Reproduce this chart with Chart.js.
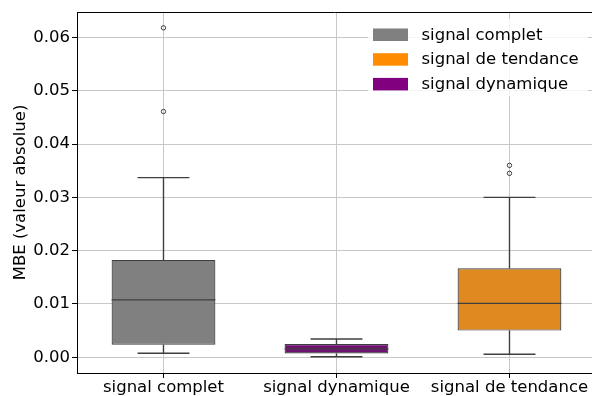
<!DOCTYPE html>
<html>
<head>
<meta charset="utf-8">
<script src="https://cdn.jsdelivr.net/npm/chart.js@4.4.1/dist/chart.umd.min.js"></script>
<style>
  html, body { margin: 0; padding: 0; background: #fff; }
  #wrap { width: 592px; height: 396px; }
</style>
</head>
<body>
<div id="wrap"><canvas id="box-chart" width="592" height="396"></canvas></div>
<script>
// boxplot MBE par type de signal
const categories = ['signal complet', 'signal dynamique', 'signal de tendance'];
const q1 = [0.00237, 0.0007, 0.0050];
const q3 = [0.01827, 0.0025, 0.0167];
const medians = [0.01076, 0.00156, 0.0101];
const whiskerLow = [0.00075, 0.0001, 0.00056];
const whiskerHigh = [0.0337, 0.00344, 0.0300];
const outliers = [[0.0618, 0.0461], [], [0.0360, 0.0345]];
const yTicks = [0, 0.01, 0.02, 0.03, 0.04, 0.05, 0.06];

const legendLabels = ['signal complet', 'signal de tendance', 'signal dynamique'];
const legendColors = ['#808080', '#ff8c00', '#800080'];
const boxColors = ['#808080', '#701070', '#df8920'];

const lineColor = '#3f3f3f';
const gridColor = '#c8c8c8';
const fontFamily = "'DejaVu Sans', sans-serif";
const fontSize = 16.5;

Chart.defaults.font.family = fontFamily;
Chart.defaults.font.size = fontSize;
Chart.defaults.color = '#000';

const outlierPoints = [];
outliers.forEach((vals, i) => vals.forEach((v) => outlierPoints.push({ x: i, y: v })));

const whiskerPlugin = {
  id: 'whiskers',
  afterDatasetsDraw(chart) {
    const { ctx, scales: { x, y } } = chart;
    ctx.save();
    ctx.strokeStyle = lineColor;
    categories.forEach((_, i) => {
      const cx = x.getPixelForValue(i);
      const halfBox = (x.getPixelForValue(i + 0.3) - x.getPixelForValue(i - 0.3)) / 2;
      const halfCap = halfBox / 2;
      ctx.lineWidth = 1.4;
      ctx.beginPath();
      ctx.moveTo(cx, y.getPixelForValue(q3[i]));
      ctx.lineTo(cx, y.getPixelForValue(whiskerHigh[i]));
      ctx.moveTo(cx - halfCap, y.getPixelForValue(whiskerHigh[i]));
      ctx.lineTo(cx + halfCap, y.getPixelForValue(whiskerHigh[i]));
      ctx.moveTo(cx, y.getPixelForValue(q1[i]));
      ctx.lineTo(cx, y.getPixelForValue(whiskerLow[i]));
      ctx.moveTo(cx - halfCap, y.getPixelForValue(whiskerLow[i]));
      ctx.lineTo(cx + halfCap, y.getPixelForValue(whiskerLow[i]));
      ctx.stroke();
      // médiane
      ctx.lineWidth = 1.2;
      ctx.beginPath();
      ctx.moveTo(cx - halfBox, y.getPixelForValue(medians[i]));
      ctx.lineTo(cx + halfBox, y.getPixelForValue(medians[i]));
      ctx.stroke();
    });
    ctx.restore();
  },
  afterDraw(chart) {
    const { ctx, chartArea } = chart;
    ctx.save();
    // cadre haut
    ctx.strokeStyle = '#000';
    ctx.lineWidth = 1;
    ctx.beginPath();
    ctx.moveTo(chartArea.left, chartArea.top + 0.5);
    ctx.lineTo(chartArea.right, chartArea.top + 0.5);
    ctx.stroke();

    // légende
    const boxX = 368, boxY = 19, boxW = 220, boxH = 77;
    ctx.fillStyle = 'rgba(255,255,255,0.8)';
    ctx.beginPath();
    ctx.roundRect(boxX, boxY, boxW, boxH, 4);
    ctx.fill();
    ctx.font = `${fontSize}px ${fontFamily}`;
    ctx.textBaseline = 'middle';
    ctx.textAlign = 'left';
    legendLabels.forEach((label, i) => {
      const rowY = 34.5 + i * 24.7;
      ctx.fillStyle = legendColors[i];
      ctx.fillRect(373, rowY - 6, 35, 12.5);
      ctx.fillStyle = '#000';
      ctx.fillText(label, 421.5, rowY + 1);
    });
    ctx.restore();
  },
};

new Chart(document.getElementById('box-chart'), {
  type: 'bar',
  data: {
    datasets: [
      {
        label: 'boîtes',
        data: categories.map((_, i) => ({ x: i, y: [q1[i], q3[i]] })),
        backgroundColor: boxColors,
        borderColor: lineColor,
        borderWidth: 1.2,
        borderSkipped: false,
        barPercentage: 1,
        categoryPercentage: 0.6,
        order: 2,
      },
      {
        type: 'scatter',
        label: 'valeurs aberrantes',
        data: outlierPoints,
        pointRadius: 2.2,
        pointBackgroundColor: 'rgba(0,0,0,0)',
        pointBorderColor: lineColor,
        pointBorderWidth: 1,
        order: 1,
      },
    ],
  },
  options: {
    responsive: false,
    animation: false,
    events: [],
    layout: { autoPadding: false, padding: { top: 12, left: 0, right: 0, bottom: 0 } },
    plugins: {
      legend: { display: false },
      tooltip: { enabled: false },
    },
    scales: {
      x: {
        type: 'linear',
        min: -0.5,
        max: 2.477,
        offset: false,
        grid: { offset: false, color: gridColor, lineWidth: 1, tickColor: '#000', tickLength: 5 },
        border: { color: '#000', width: 1 },
        ticks: {
          stepSize: 1,
          includeBounds: false,
          autoSkip: false,
          maxRotation: 0,
          padding: 0,
          color: '#000',
          callback: (v) => (Number.isInteger(v) ? categories[v] : ''),
        },
        afterFit: (s) => { s.height = 23; s.paddingLeft = 0; s.paddingRight = 0; },
      },
      y: {
        min: -0.00295,
        max: 0.06477,
        grid: { color: gridColor, lineWidth: 1, tickColor: '#000', tickLength: 5 },
        border: { color: '#000', width: 1 },
        ticks: {
          stepSize: 0.01,
          includeBounds: false,
          padding: 2,
          color: '#000',
          callback: (v) => (yTicks.some((t) => Math.abs(t - v) < 1e-9) ? v.toFixed(2) : ''),
        },
        title: {
          display: true,
          text: 'MBE (valeur absolue)',
          color: '#000',
          font: { size: fontSize },
          padding: { top: 11, bottom: 0 },
        },
        afterFit: (s) => { s.width = 77; },
      },
    },
  },
  plugins: [whiskerPlugin],
});
</script>
</body>
</html>
